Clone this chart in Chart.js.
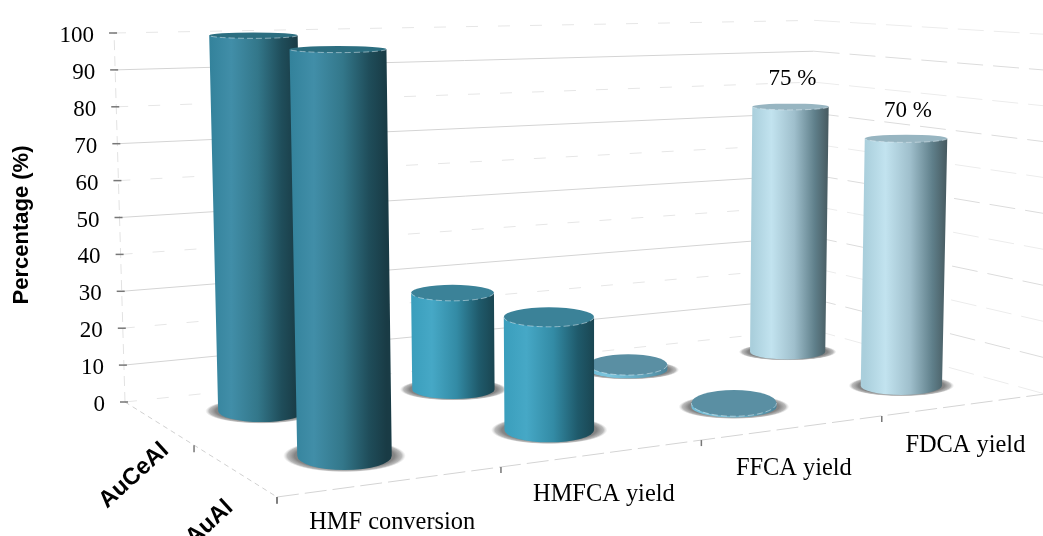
<!DOCTYPE html>
<html>
<head>
<meta charset="utf-8">
<style>
  html,body{margin:0;padding:0;background:#fff;}
  canvas{display:block;}
</style>
<script src="https://cdn.jsdelivr.net/npm/chart.js@4"></script>
</head>
<body>
<canvas id="chart" width="1043" height="536"></canvas>
<script>
// Data
const categories = ["HMF conversion","HMFCA yield","FFCA yield","FDCA yield"];
const seriesNames = ["AuCeAl","AuAl"];
const auCeAl = [100,27,1.5,75];
const auAl = [99,29,1,70];
const auCeAlLabels = [null,null,null,"75 %"];
const auAlLabels = [null,null,null,"70 %"];
const yTitle = "Percentage (%)";

// Colours per category: side gradient stops + cap
const sideColors = [
  ["#33829b","#418ea8","#33778a","#1f4d5a","#193b45"],
  ["#3a9ebc","#46a8c6","#338ba5","#1f5a6b","#1a4652"],
  ["#6fbcd6","#7cc6de","#6ab0c8","#5a9ab0","#4a8298"],
  ["#aacfdc","#c2e3ef","#9fbfcc","#5f7f8a","#46595f"]
];
const capColors = ["#2c6e80","#3b8298","#5a8fa3","#97b5c1"];

const serif = '"Liberation Serif"';
const sans = '"Liberation Sans"';

// Floor of the 3D box, screen corners (back-left, back-right, front-left, front-right)
const BL=[125,402], BR=[810,329], FL=[277,497], FR=[1045,394];
const dx1=BR[0]-FR[0], dx2=FL[0]-FR[0], sx=BL[0]-BR[0]+FR[0]-FL[0];
const dy1=BR[1]-FR[1], dy2=FL[1]-FR[1], sy=BL[1]-BR[1]+FR[1]-FL[1];
const det=dx1*dy2-dx2*dy1;
const g=(sx*dy2-dx2*sy)/det, h=(dx1*sy-sx*dy1)/det;

// Uprights lean towards a far vanishing point under the chart
const VIEW_X=600, VIEW_DIST=16000;

// u: along categories 0..1, d: back to front 0..1, v: value
function project(chart,u,d,v){
  const y=chart.scales.y;
  const w=1+g*u+h*d;
  const bx=((BR[0]-BL[0]+g*BR[0])*u+(FL[0]-BL[0]+h*FL[0])*d+BL[0])/w;
  const by=((BR[1]-BL[1]+g*BR[1])*u+(FL[1]-BL[1]+h*FL[1])*d+BL[1])/w;
  const rise=(y.getPixelForValue(0)-y.getPixelForValue(v))/w;
  return {x:bx+(bx-VIEW_X)*rise/VIEW_DIST, y:by-rise, w:w, grow:1+rise/VIEW_DIST};
}
function catU(chart,i){
  const a=chart.chartArea;
  return (chart.scales.x.getPixelForValue(i)-a.left)/a.width;
}
function tiltOf(y){ return 0.065+0.24*(y/400)*(y/400); }

function line(ctx,pts,color,width,dash){
  ctx.save();
  ctx.strokeStyle=color;
  ctx.lineWidth=width;
  ctx.setLineDash(dash||[]);
  ctx.beginPath();
  pts.forEach((p,i)=> i?ctx.lineTo(p.x,p.y):ctx.moveTo(p.x,p.y));
  ctx.stroke();
  ctx.restore();
}
function text(ctx,str,x,y,font,align,angle){
  ctx.save();
  ctx.translate(x,y);
  if(angle) ctx.rotate(angle);
  ctx.font=font;
  ctx.fillStyle="#000";
  ctx.textAlign=align||"center";
  ctx.textBaseline="middle";
  ctx.fillText(str,0,0);
  ctx.restore();
}

// Box: wall grid, floor edges, ticks and all axis text
const boxPlugin={
  id:"box",
  beforeDatasetsDraw(chart){
    const ctx=chart.ctx;
    chart.scales.y.ticks.forEach(t=>{
      const solid=(t.value/10)%2===1;
      line(ctx,[project(chart,0,0,t.value),project(chart,1,0,t.value)],solid?"#d4d4d4":"#e6e6e6",1,solid?[]:[12,20]);
      line(ctx,[project(chart,1,0,t.value),project(chart,1,1,t.value)],solid?"#dcdcdc":"#ececec",1,[26,10]);
    });
    line(ctx,[project(chart,0,0,0),project(chart,0,0,100)],"#e2e2e2",1,[10,6]);
    line(ctx,[project(chart,0,0,0),project(chart,0,1,0)],"#d0d0d0",1,[5,4]);
    line(ctx,[project(chart,0,1,0),project(chart,1,1,0)],"#d4d4d4",1,[22,6]);

    chart.scales.y.ticks.forEach(t=>{
      const p=project(chart,0,0,t.value);
      line(ctx,[{x:p.x-5,y:p.y},{x:p.x+3,y:p.y}],"#777",1.5);
      text(ctx,String(t.value),p.x-20,p.y+3,"23px "+serif,"right");
    });
    [0,1,2,3].forEach(i=>{
      const p=project(chart,i/4,1,0);
      line(ctx,[{x:p.x,y:p.y},{x:p.x,y:p.y+6}],"#777",1.5);
    });
    [0.5,1].forEach(d=>{
      const p=project(chart,0,d,0);
      line(ctx,[{x:p.x,y:p.y},{x:p.x,y:p.y+7}],"#777",1.5);
    });

    categories.forEach((c,i)=>{
      const p=project(chart,catU(chart,i),1,0);
      text(ctx,c,p.x,p.y+41,"24.4px "+serif);
    });
    seriesNames.forEach((s,k)=>{
      const p=project(chart,0,(k+0.5)/2,0);
      text(ctx,s,p.x-24,p.y+53,"bold 23.5px "+sans,"center",-0.74);
    });
    text(ctx,yTitle,22,225,"bold 22px "+sans,"center",-Math.PI/2);
  },
  // Cylinders, back row first
  afterDatasetsDraw(chart){
    const ctx=chart.ctx;
    const labels=[auCeAlLabels,auAlLabels];
    const R=0.185*chart.chartArea.width/4;
    chart.data.datasets.forEach((ds,k)=>{
      const d=(k+0.5)/2;
      ds.data.forEach((v,i)=>{
        const u=catU(chart,i);
        const b=project(chart,u,d,0), t=project(chart,u,d,v);
        const rb=R/b.w, rt=R/b.w*t.grow;
        const ryb=rb*tiltOf(b.y)*0.8, ryt=rt*tiltOf(t.y);

        // floor shadow
        ctx.save();
        ctx.translate(b.x,b.y);
        ctx.scale(1,ryb*1.15/(rb*1.3));
        const sh=ctx.createRadialGradient(0,0,rb*0.7,0,0,rb*1.3);
        sh.addColorStop(0,"#777777");
        sh.addColorStop(0.6,"#858585");
        sh.addColorStop(0.85,"rgba(170,170,170,0.8)");
        sh.addColorStop(1,"rgba(210,210,210,0)");
        ctx.fillStyle=sh;
        ctx.beginPath();
        ctx.arc(0,0,rb*1.3,0,Math.PI*2);
        ctx.fill();
        ctx.restore();

        // side
        const grad=ctx.createLinearGradient(t.x-rt,0,t.x+rt,0);
        [0,0.25,0.55,0.82,1].forEach((s,n)=>grad.addColorStop(s,sideColors[i][n]));
        ctx.fillStyle=grad;
        ctx.beginPath();
        ctx.moveTo(b.x-rb,b.y);
        ctx.lineTo(t.x-rt,t.y);
        ctx.lineTo(t.x+rt,t.y);
        ctx.lineTo(b.x+rb,b.y);
        ctx.ellipse(b.x,b.y,rb,ryb,0,0,Math.PI);
        ctx.closePath();
        ctx.fill();

        // cap with a light broken rim
        ctx.fillStyle=capColors[i];
        ctx.beginPath();
        ctx.ellipse(t.x,t.y,rt,ryt,0,0,Math.PI*2);
        ctx.fill();
        ctx.save();
        ctx.strokeStyle="rgba(230,240,245,0.5)";
        ctx.lineWidth=1;
        ctx.setLineDash([6,3]);
        ctx.beginPath();
        ctx.ellipse(t.x,t.y,rt,ryt,0,0,Math.PI);
        ctx.stroke();
        ctx.restore();

        if(labels[k][i]) text(ctx,labels[k][i],t.x+2,t.y-28,"23px "+serif);
      });
    });
  }
};

new Chart(document.getElementById("chart"),{
  type:"bar",
  data:{
    labels:categories,
    datasets:[
      {label:seriesNames[0],data:auCeAl,backgroundColor:"transparent"},
      {label:seriesNames[1],data:auAl,backgroundColor:"transparent"}
    ]
  },
  options:{
    responsive:false,
    animation:false,
    layout:{padding:{left:125,top:33,right:0,bottom:134}},
    plugins:{legend:{display:false},tooltip:{enabled:false}},
    scales:{
      x:{display:false},
      y:{display:false,min:0,max:100,ticks:{stepSize:10}}
    }
  },
  plugins:[boxPlugin]
});
</script>
</body>
</html>
